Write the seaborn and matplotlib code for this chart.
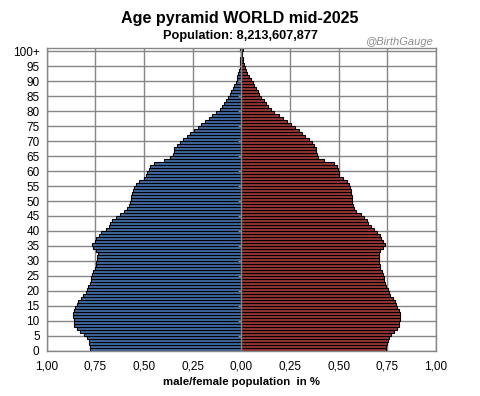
# Age pyramid WORLD mid-2025 - recreated with seaborn
import numpy as np
import pandas as pd
import matplotlib
matplotlib.use("Agg")
import matplotlib.pyplot as plt
import seaborn as sns

# share of total population (in %) per single year of age, 0 .. 100+
ages = list(range(0, 101))
age_labels = [str(a) for a in range(0, 100, 5)] + ["100+"]

male = [
    0.779, 0.779, 0.781, 0.784, 0.794, 0.810, 0.827, 0.842, 0.857, 0.857,
    0.861, 0.862, 0.866, 0.861, 0.852, 0.845, 0.837, 0.825, 0.815, 0.799,
    0.794, 0.786, 0.777, 0.774, 0.770, 0.765, 0.759, 0.752, 0.748, 0.745,
    0.743, 0.743, 0.736, 0.745, 0.759, 0.769, 0.753, 0.745, 0.733, 0.718,
    0.697, 0.677, 0.673, 0.662, 0.641, 0.621, 0.602, 0.587, 0.575, 0.570,
    0.566, 0.565, 0.563, 0.554, 0.553, 0.543, 0.527, 0.502, 0.488, 0.483,
    0.473, 0.468, 0.447, 0.396, 0.364, 0.350, 0.347, 0.344, 0.330, 0.315,
    0.299, 0.279, 0.264, 0.243, 0.224, 0.207, 0.185, 0.167, 0.151, 0.129,
    0.109, 0.099, 0.088, 0.077, 0.068, 0.060, 0.053, 0.043, 0.036, 0.029,
    0.024, 0.020, 0.017, 0.012, 0.009, 0.007, 0.005, 0.004, 0.003, 0.002,
    0.004,
]
female = [
    0.745, 0.745, 0.747, 0.752, 0.760, 0.771, 0.786, 0.801, 0.812, 0.810,
    0.817, 0.815, 0.815, 0.808, 0.800, 0.795, 0.788, 0.779, 0.765, 0.757,
    0.752, 0.743, 0.738, 0.733, 0.731, 0.729, 0.723, 0.714, 0.711, 0.709,
    0.709, 0.709, 0.705, 0.712, 0.726, 0.736, 0.726, 0.716, 0.711, 0.695,
    0.680, 0.664, 0.652, 0.647, 0.628, 0.613, 0.591, 0.577, 0.572, 0.567,
    0.568, 0.568, 0.565, 0.563, 0.560, 0.555, 0.545, 0.524, 0.503, 0.502,
    0.497, 0.491, 0.478, 0.426, 0.396, 0.387, 0.385, 0.384, 0.375, 0.363,
    0.348, 0.329, 0.312, 0.296, 0.277, 0.257, 0.235, 0.216, 0.195, 0.170,
    0.152, 0.137, 0.125, 0.115, 0.103, 0.092, 0.086, 0.077, 0.067, 0.058,
    0.048, 0.038, 0.031, 0.026, 0.021, 0.015, 0.010, 0.008, 0.006, 0.005,
    0.007,
]
x_ticks = [-1.0, -0.75, -0.5, -0.25, 0.0, 0.25, 0.5, 0.75, 1.0]
population = "8,213,607,877"

sns.set_style("white")
plt.rcParams["font.family"] = ["Liberation Sans", "DejaVu Sans"]
plt.rcParams["text.color"] = "black"
plt.rcParams["axes.labelcolor"] = "black"
plt.rcParams["xtick.labelcolor"] = "black"
plt.rcParams["ytick.labelcolor"] = "black"

# long format table, male to the left (negative)
df = pd.DataFrame({
    "age": ages + ages,
    "value": [-v for v in male] + female,
    "sex": ["male"] * len(ages) + ["female"] * len(ages),
})
df["pos"] = df["age"] + 0.5  # bar for age a covers [a, a+1]

grid_col = "#868686"
fig = plt.figure(figsize=(4.8, 3.96), dpi=100)
ax = fig.add_axes([0.097, 0.1144, 0.8113, 0.7636])

sns.barplot(data=df, x="value", y="pos", hue="sex", orient="h",
            native_scale=True, dodge=False, width=1, saturation=1,
            palette={"male": "#4069A0", "female": "#963634"},
            edgecolor="black", linewidth=0.8, errorbar=None,
            legend=False, ax=ax, zorder=2)

ax.set_xlim(-1, 1)
ax.set_ylim(0, 101)
ax.set_xticks(x_ticks)
ax.set_xticklabels([f"{abs(t):.2f}".replace(".", ",") for t in x_ticks])
yt = list(range(0, 101, 5))
ax.set_yticks(yt)
ax.set_yticklabels(age_labels)

ax.grid(True, color=grid_col, linewidth=1.0, zorder=0)
ax.set_axisbelow(True)
for s in ax.spines.values():
    s.set_color(grid_col)
    s.set_linewidth(1.0)
ax.tick_params(axis="both", length=3, color=grid_col, width=1.0,
               labelsize=8.5, pad=2, direction="out")
ax.tick_params(axis="x", pad=4)

# centre axis with its small tick marks
ax.axvline(0, color=grid_col, linewidth=1.0, zorder=3)
ax.hlines(yt, -0.018, 0, color=grid_col, linewidth=1.0, zorder=3)

ax.set_xlabel("male/female population  in %", fontsize=8.2,
              fontweight="bold", labelpad=3)
ax.set_ylabel("")

fig.text(0.5, 0.953, "Age pyramid WORLD mid-2025", ha="center", va="center",
         fontsize=11.6, fontweight="bold")
fig.text(0.5, 0.908, f"Population: {population}", ha="center", va="center",
         fontsize=9.2, fontweight="bold")
fig.text(0.903, 0.894, "@BirthGauge", ha="right", va="center",
         fontsize=8, style="italic", color="#8c8c8c")

fig.savefig("out.png", dpi=100)
